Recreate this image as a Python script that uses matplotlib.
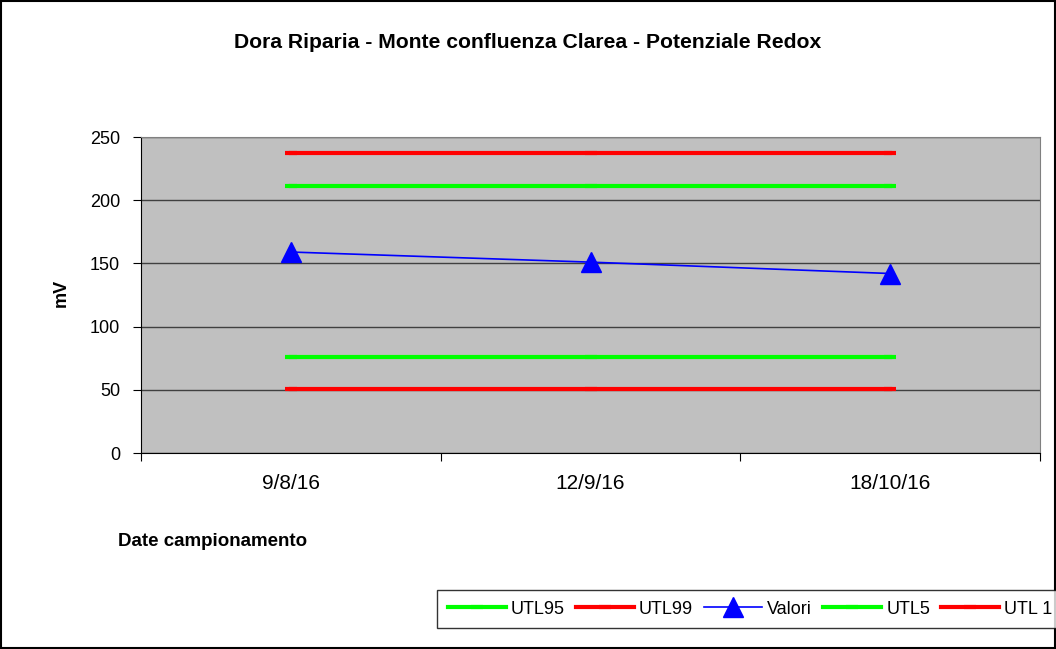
import matplotlib.pyplot as plt
from matplotlib.patches import Rectangle

plt.rcParams['font.family'] = ['Liberation Sans', 'DejaVu Sans']

date = ['9/8/16', '12/9/16', '18/10/16']
utl95 = [211, 211, 211]
utl99 = [237.5, 237.5, 237.5]
valori = [159, 151, 142]
utl5 = [76, 76, 76]
utl1 = [50.5, 50.5, 50.5]

fig = plt.figure(figsize=(10.56, 6.49), dpi=100)
fig.patches.append(Rectangle((0.001, 0.001), 0.998, 0.997, transform=fig.transFigure,
                             fill=False, edgecolor='black', linewidth=1.5))

ax = fig.add_axes([141 / 1056, 1 - 453 / 649, (1040 - 141) / 1056, (453 - 137) / 649])
ax.set_facecolor('#c0c0c0')

x = range(len(date))
ax.plot(x, utl95, color='#00ff00', lw=3, marker='_', ms=8, mew=3, label='UTL95')
ax.plot(x, utl99, color='#ff0000', lw=3, marker='_', ms=8, mew=3, label='UTL99')
ax.plot(x, valori, color='#0000ff', lw=1.2, marker='^', ms=14, label='Valori')
ax.plot(x, utl5, color='#00ff00', lw=3, marker='_', ms=8, mew=3, label='UTL5')
ax.plot(x, utl1, color='#ff0000', lw=3, marker='_', ms=8, mew=3, label='UTL 1')

ax.set_xlim(-0.5, 2.5)
ax.set_ylim(0, 250)
ax.set_yticks([0, 50, 100, 150, 200, 250])
ax.set_xticks([-0.5, 0.5, 1.5, 2.5])
ax.set_xticklabels([])
ax.set_xticks(list(x), minor=True)
ax.set_xticklabels(date, minor=True)
ax.tick_params(axis='x', which='minor', length=0, pad=15, labelsize=15)
ax.tick_params(axis='x', which='major', length=6, direction='out')
ax.tick_params(axis='y', length=6, direction='out', labelsize=13, pad=9)
ax.grid(axis='y', color='#404040', lw=1)
ax.set_axisbelow(True)

for s in ['top', 'right']:
    ax.spines[s].set_color('#808080')
ax.spines['left'].set_color('black')
ax.spines['bottom'].set_color('black')

fig.text(528 / 1056, 1 - 42 / 649, 'Dora Riparia - Monte confluenza Clarea - Potenziale Redox',
         ha='center', va='center', fontsize=15.2, fontweight='bold')
fig.text(61 / 1056, 1 - 293 / 649, 'mV', ha='center', va='center', rotation=90,
         fontsize=13, fontweight='bold')
fig.text(118 / 1056, 1 - 541 / 649, 'Date campionamento', ha='left', va='center',
         fontsize=13.5, fontweight='bold')

leg = fig.legend(loc='center left', bbox_to_anchor=(428 / 1056, 1 - 609 / 649), ncol=5,
                 frameon=True, fancybox=False, edgecolor='black', fontsize=13,
                 handlelength=3.2, handletextpad=0.3, columnspacing=0.6, borderpad=0.6)
leg.get_frame().set_linewidth(1)

fig.savefig('out.png', dpi=100)
